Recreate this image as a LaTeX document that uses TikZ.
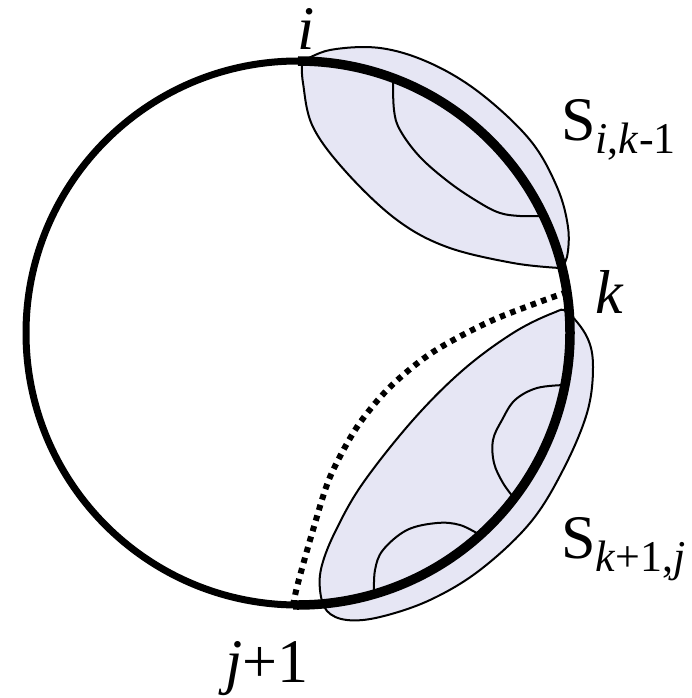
\documentclass[tikz,border=0pt]{standalone}
\usepackage{fontspec}
\setmainfont{Liberation Serif}
\usetikzlibrary{calc,positioning}
\definecolor{lavender}{RGB}{230,230,244}
\tikzset{region/.style={fill=lavender,draw=black,line width=2pt},
tie/.style={line width=2pt},
thinrim/.style={line width=7pt},
thickrim/.style={line width=9.5pt},
split/.style={line width=6pt,dash pattern=on 5.5pt off 5.5pt},
lbl/.style={inner sep=0pt,font=\fontsize{62}{74}\selectfont}}
\newcommand{\subtxt}[1]{\raisebox{-13pt}{\fontsize{44}{52}\selectfont #1}}

\begin{document}
\begin{tikzpicture}[x=1pt,y=-1pt]
\useasboundingbox (0,0) rectangle (692,698);
\coordinate (O) at (298,333);
\coordinate (i) at (298,61);
\coordinate (k) at (567,292);
\coordinate (j1) at (293,605);

% the two sub-problems
\draw[region] plot[smooth,tension=0.6] coordinates {(302,62) (330,50) (380,48) (430,63) (480,93) (530,140) (557,187) (568,227) (567,257) (560,268)}
  -- plot[smooth,tension=0.6] coordinates {(560,268) (513,263) (447,247) (397,220) (347,173) (313,127) (303,83) (302,62)} -- cycle;
\draw[region] plot[smooth cycle,tension=0.6] coordinates {(567,312) (587,337) (593,367) (587,413) (563,470) (530,523) (480,570) (430,600) (380,617) (347,620) (327,611) (320,590) (322,565) (336,530) (363,483) (413,420) (463,370) (513,333) (553,313)};

% arcs inside the regions
\draw[tie] plot[smooth,tension=0.6] coordinates {(393,79) (394,110) (400,130) (420,157) (450,183) (480,203) (500,213) (520,216) (543,216)};
\draw[tie] plot[smooth,tension=0.6] coordinates {(565,385) (537,388) (515,400) (502,420) (493,440) (494,463) (503,483) (514,498)};
\draw[tie] plot[smooth,tension=0.6] coordinates {(480,535) (460,525) (437,523) (407,530) (383,550) (375,570) (374,594)};

% polygon boundary
\draw[thinrim] (O) circle[radius=272];
\draw[thickrim] (i) arc[start angle=-90,end angle=91,radius=272];

% the chord k -- j+1
\draw[split] plot[smooth] coordinates {(k) (493,320) (433,352) (390,387) (357,427) (330,477) (313,530) (298,583) (j1)};

% labels
\node[lbl,anchor=base] (li) at (306,50) {\textit{i}};
\node[lbl,anchor=base west] (lk) at (595,313) {\textit{k}};
\node[lbl,anchor=base west] (lj) at (225,682) {\textit{j}+1};
\node[lbl,anchor=base west] (Sik) at (561,140) {S\subtxt{\textit{i},\textit{k}-1}};
\node[lbl,anchor=base west] (Skj) at (561,558) {S\subtxt{\textit{k}+1,\textit{j}}};
\end{tikzpicture}
\end{document}
